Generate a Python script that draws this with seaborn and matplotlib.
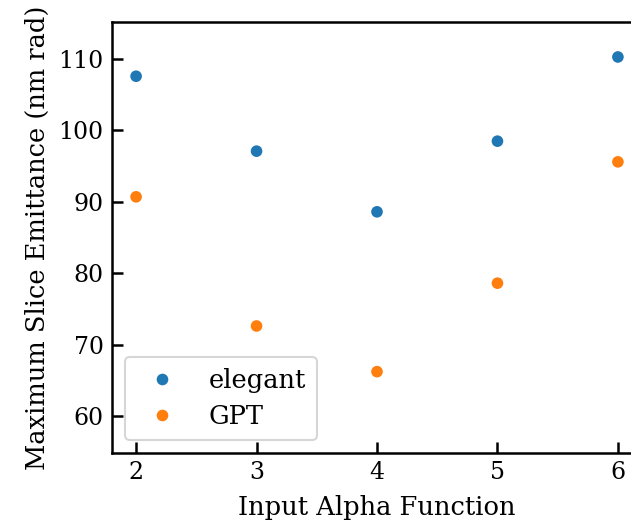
import pandas as pd
import matplotlib.pyplot as plt
import seaborn as sns

# Dados
alpha_values = [2, 3, 4, 5, 6]
elegant_emit = [107.6, 97.1, 88.6, 98.5, 110.3]
gpt_emit = [90.7, 72.6, 66.2, 78.6, 95.6]
codes = ["elegant", "GPT"]

df = pd.DataFrame({
    "alpha": alpha_values * 2,
    "emit": elegant_emit + gpt_emit,
    "code": [codes[0]] * len(alpha_values) + [codes[1]] * len(alpha_values),
})

sns.set_theme(style="white")
plt.rcParams['font.family'] = ['DejaVu Serif']
plt.rcParams['text.color'] = 'black'
plt.rcParams['axes.labelcolor'] = 'black'
plt.rcParams['xtick.direction'] = 'in'
plt.rcParams['ytick.direction'] = 'in'
plt.rcParams['xtick.bottom'] = True
plt.rcParams['ytick.left'] = True

fig = plt.figure(figsize=(6.31, 5.23), dpi=100)
ax = fig.add_axes([112 / 631, 70 / 523, 530 / 631, 431 / 523])

sns.scatterplot(data=df, x="alpha", y="emit", hue="code", hue_order=codes,
                palette=["#1f77b4", "#ff7f0e"], s=70, linewidth=0, ax=ax)

ax.set_xlim(1.8, 6.2)
ax.set_ylim(54.8, 115.2)
ax.set_xticks(alpha_values)
ax.set_yticks([60, 70, 80, 90, 100, 110])
ax.tick_params(axis='both', labelsize=17, length=8, width=1.8, pad=6,
               colors='black', bottom=True, left=True)
for s in ax.spines.values():
    s.set_linewidth(1.8)
    s.set_color('black')

ax.set_xlabel("Input Alpha Function", fontsize=18.5, labelpad=8)
ax.set_ylabel("Maximum Slice Emittance (nm rad)", fontsize=18.5, labelpad=6)

leg = ax.legend(loc='lower left', fontsize=18.5, handletextpad=0.8,
                borderpad=0.45, labelspacing=0.4, frameon=True)
leg.get_frame().set_linewidth(1.5)
for t in leg.get_texts():
    t.set_color('black')

plt.savefig("out.png", dpi=100)
plt.close()
